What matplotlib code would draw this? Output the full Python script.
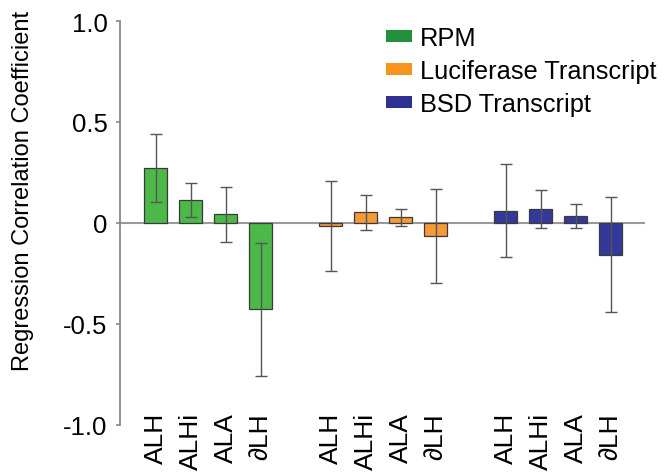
import matplotlib
matplotlib.use("Agg")
import matplotlib.pyplot as plt
from matplotlib.patches import Rectangle

plt.rcParams['font.family'] = ['Liberation Sans', 'DejaVu Sans']

categories = ['ALH', 'ALHi', 'ALA', '∂LH']
series_names = ['RPM', 'Luciferase Transcript', 'BSD Transcript']
rpm_values = [0.272, 0.114, 0.043, -0.426]
rpm_errors = [0.167, 0.084, 0.137, 0.329]
luc_values = [-0.013, 0.053, 0.028, -0.066]
luc_errors = [0.223, 0.086, 0.043, 0.232]
bsd_values = [0.061, 0.069, 0.033, -0.157]
bsd_errors = [0.230, 0.095, 0.059, 0.284]
yticks = [-1.0, -0.5, 0, 0.5, 1.0]
ytick_labels = ['-1.0', '-0.5', '0', '0.5', '1.0']

bar_colors = ['#4cb848', '#f59a36', '#33399a']
legend_colors = ['#238e3c', '#f7941d', '#2e3192']

fig = plt.figure(figsize=(6.68, 4.77), dpi=100)
ax = fig.add_axes([120/668, 51/477, 525/668, 404/477])

series = [(rpm_values, rpm_errors), (luc_values, luc_errors), (bsd_values, bsd_errors)]
all_pos = []
all_labels = []
n = len(categories)
ax.axhline(0, color='#9a9a9a', lw=1.5, zorder=1)
for g, (vals, errs) in enumerate(series):
    pos = [g * (n + 1) + i for i in range(n)]
    ax.bar(pos, vals, width=0.67, color=bar_colors[g], edgecolor='#3a3a3a',
           linewidth=0.9, zorder=2)
    ax.errorbar(pos, vals, yerr=errs, fmt='none', ecolor='#555555',
                elinewidth=1.0, capsize=4.3, capthick=1.0, zorder=3)
    all_pos += pos
    all_labels += categories

ax.set_xlim(-1.02, 13.98)
ax.set_ylim(-1.0, 1.0)
ax.set_xticks(all_pos)
ax.set_xticklabels(all_labels, rotation=90, fontsize=19)
ax.tick_params(axis='x', length=0, pad=-9.4)
ax.set_yticks(yticks)
ax.set_yticklabels(ytick_labels, fontsize=18.5)
ax.tick_params(axis='y', length=3, width=1.2, color='#888888', pad=6)

for s in ['top', 'right', 'bottom']:
    ax.spines[s].set_visible(False)
ax.spines['left'].set_color('#888888')
ax.spines['left'].set_linewidth(1.3)

fig.text(23/668, 1 - 191/477, 'Regression Correlation Coefficient', fontsize=17,
         rotation=90, ha='center', va='center')

handles = [Rectangle((0, 0), 1, 1, facecolor=c, edgecolor='none') for c in legend_colors]
leg = ax.legend(handles, series_names, loc='upper left',
                bbox_to_anchor=(386/668, 1 - 27/477), bbox_transform=fig.transFigure,
                frameon=False, fontsize=18.3, handlelength=1.04, handleheight=0.32,
                handletextpad=0.28, labelspacing=0.36, borderpad=0, borderaxespad=0)

fig.savefig('out.png', dpi=100)
